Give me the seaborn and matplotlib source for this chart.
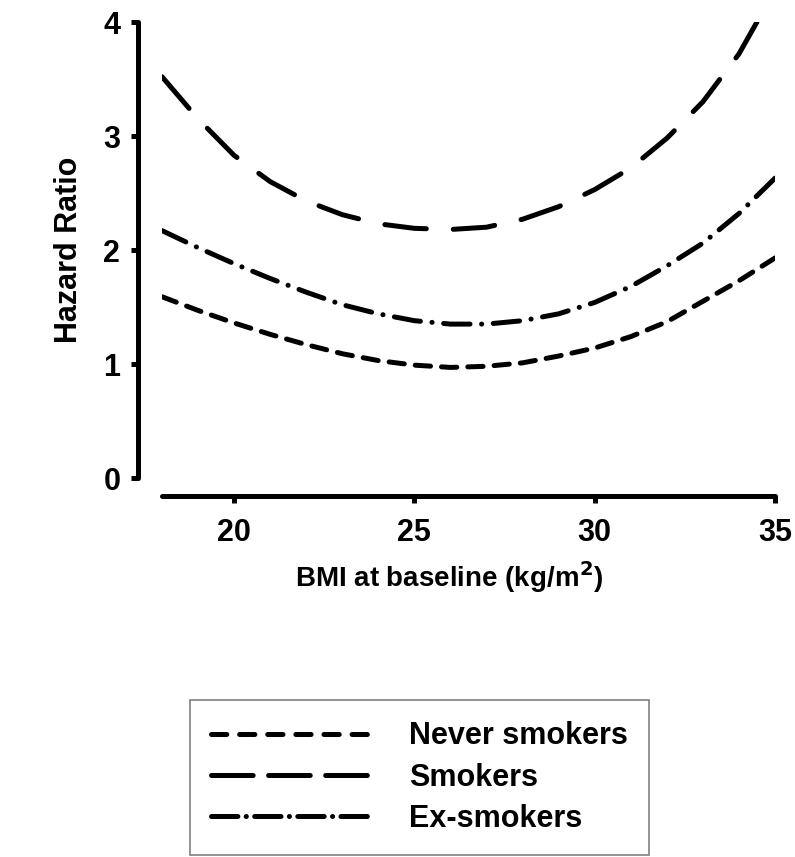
import numpy as np
import pandas as pd
import matplotlib
matplotlib.use("Agg")
import matplotlib.pyplot as plt
import seaborn as sns

# ── data (BMI vs hazard ratio) ──
bmi_never = [18, 19, 20, 21, 22, 23, 24, 25, 26, 27, 28, 29, 30, 31, 32, 33, 34, 35]
hr_never = [1.59, 1.47, 1.36, 1.26, 1.17, 1.09, 1.03, 0.99, 0.97, 0.98, 1.01,
            1.07, 1.14, 1.24, 1.37, 1.55, 1.73, 1.93]

bmi_smok = [18, 19, 20, 21, 22, 23, 24, 25, 26, 27, 28, 29, 30, 31, 32, 33, 34, 34.5]
hr_smok = [3.52, 3.15, 2.83, 2.60, 2.43, 2.31, 2.23, 2.19, 2.18, 2.20, 2.27,
           2.38, 2.53, 2.72, 2.98, 3.30, 3.72, 4.00]

bmi_ex = [18, 19, 20, 21, 22, 23, 24, 25, 26, 27, 28, 29, 30, 31, 32, 33, 34, 35]
hr_ex = [2.17, 2.02, 1.88, 1.75, 1.63, 1.52, 1.44, 1.38, 1.35, 1.35, 1.38,
         1.44, 1.54, 1.68, 1.86, 2.06, 2.32, 2.63]

groups = ["Never smokers", "Smokers", "Ex-smokers"]
x_ticks = [20, 25, 30, 35]
y_ticks = [0, 1, 2, 3, 4]

df = pd.concat([
    pd.DataFrame({"bmi": bmi_never, "hr": hr_never, "group": groups[0]}),
    pd.DataFrame({"bmi": bmi_smok, "hr": hr_smok, "group": groups[1]}),
    pd.DataFrame({"bmi": bmi_ex, "hr": hr_ex, "group": groups[2]}),
], ignore_index=True)

# ── style ──
sns.set_theme(style="ticks")
plt.rcParams["font.family"] = ["Liberation Sans", "DejaVu Sans"]
plt.rcParams["font.weight"] = "bold"
plt.rcParams["text.color"] = "black"
plt.rcParams["axes.labelcolor"] = "black"
plt.rcParams["xtick.color"] = "black"
plt.rcParams["ytick.color"] = "black"
plt.rcParams["lines.scale_dashes"] = False
plt.rcParams["lines.dash_capstyle"] = "round"
plt.rcParams["lines.solid_capstyle"] = "round"

# dash patterns in points (on, off, ...)
dash_map = {
    "Never smokers": (11, 8),
    "Smokers": (30, 18),
    "Ex-smokers": (19, 9, 0.1, 9),
}


def fit_dashes(pat, length_pt):
    """stretch the gaps so the pattern starts and ends on a dash"""
    on = pat[0]
    n = max(1, round((length_pt - on) / sum(pat)))
    scale = ((length_pt - on) / n - sum(pat[0::2])) / sum(pat[1::2])
    return (0, tuple(v if i % 2 == 0 else v * scale for i, v in enumerate(pat)))


fig = plt.figure(figsize=(7.95, 8.57), dpi=100)
ax = fig.add_axes([162 / 795, 1 - 478 / 857, 613 / 795, 456 / 857])

sns.lineplot(data=df, x="bmi", y="hr", style="group", style_order=groups,
             dashes=dash_map, color="black", linewidth=3.6, ax=ax,
             sort=True, estimator=None)

ax.set_xlim(18, 35)
ax.set_ylim(0, 4)
ax.set_xticks(x_ticks)
ax.set_yticks(y_ticks)

series = {groups[0]: (bmi_never, hr_never), groups[1]: (bmi_smok, hr_smok),
          groups[2]: (bmi_ex, hr_ex)}
for line, g in zip(ax.lines[:3], groups):
    xs, ys = series[g]
    pts = ax.transData.transform(np.column_stack([xs, ys]))
    length_pt = np.hypot(*np.diff(pts, axis=0).T).sum() * 72 / fig.dpi
    line.set_linestyle(fit_dashes(dash_map[g], length_pt))

sns.despine(ax=ax)
ax.spines["left"].set_position(("outward", 17))
ax.spines["bottom"].set_position(("outward", 13))
ax.spines["left"].set_bounds(0, 4)
ax.spines["bottom"].set_bounds(18, 35)
for s in ["left", "bottom"]:
    ax.spines[s].set_linewidth(3.6)
    ax.spines[s].set_color("black")
    ax.spines[s].set_capstyle("round")

ax.tick_params(axis="both", direction="out", length=5, width=3.6,
               color="black", labelsize=22, labelcolor="black")
ax.tick_params(axis="x", pad=11)
ax.tick_params(axis="y", pad=8)
for lab in ax.get_xticklabels() + ax.get_yticklabels():
    lab.set_fontweight("bold")

ax.set_xlabel("BMI at baseline (kg/m$^{\\mathbf{2}}$)", fontsize=20,
              fontweight="bold", color="black")
ax.xaxis.set_label_coords(0.468, -0.178)
ax.set_ylabel("Hazard Ratio", fontsize=22, fontweight="bold", labelpad=14,
              color="black")

# ── legend below the plot ──
leg_fs = 22
handle_len = 5.1
handles, labels = ax.get_legend_handles_labels()
ax.get_legend().remove()
leg = fig.legend(handles, labels, loc="upper left",
                 bbox_to_anchor=(190 / 795, 1 - 700 / 857),
                 borderaxespad=0, frameon=True, fancybox=False,
                 edgecolor="#808080", framealpha=1,
                 prop={"size": leg_fs, "weight": "bold"},
                 handlelength=handle_len, handletextpad=1.37,
                 labelspacing=0.37, borderpad=0.7)
leg.get_frame().set_linewidth(1.2)
for h, g in zip(leg.legend_handles, groups):
    h.set_linewidth(3.6)
    h.set_linestyle(fit_dashes(dash_map[g], handle_len * leg_fs))
for t in leg.get_texts():
    t.set_color("black")

fig.savefig("out.png", dpi=100, facecolor="white")
